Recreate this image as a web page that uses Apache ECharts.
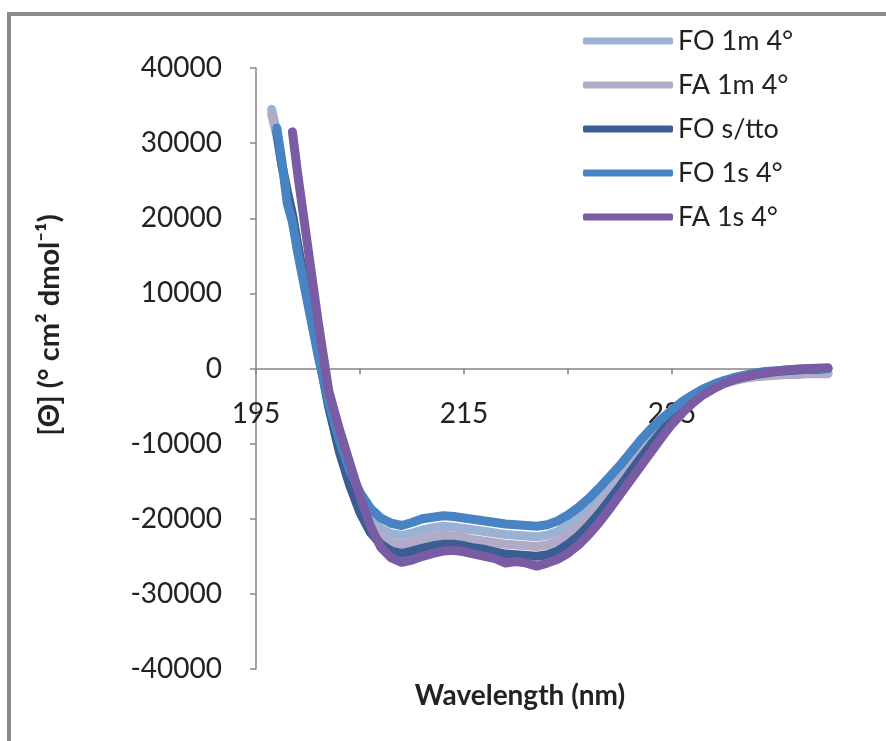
<!DOCTYPE html>
<html>
<head>
<meta charset="utf-8">
<script src="https://cdn.jsdelivr.net/npm/echarts@6/dist/echarts.min.js"></script>
<style>
html,body{margin:0;padding:0;background:#fff;}
#chart{width:886px;height:741px;}
</style>
</head>
<body>
<div id="chart"></div>
<script>
// Wavelength (nm)
const wavelength = [196.5,197,197.5,198,198.5,199,200,201,202,203,204,205,206,207,208,209,210,211,212,213,214,215,216,217,218,219,220,221,222,223,224,225,226,227,228,229,230,231,232,233,234,235,236,237,238,239,240,241,242,243,244,245,246,247,248,249,250];

const seriesNames = ['FO 1m 4°','FA 1m 4°','FO s/tto','FO 1s 4°','FA 1s 4°'];

const fo1m4 = [34500,31500,27000,23500,20500,16500,9000,2000,-4500,-10000,-14500,-17800,-20000,-21300,-22000,-22200,-21900,-21500,-21200,-21000,-21100,-21300,-21500,-21700,-21900,-22100,-22200,-22300,-22400,-22200,-21700,-20900,-19800,-18500,-17000,-15400,-13800,-12000,-10300,-8700,-7200,-5900,-4700,-3700,-2900,-2300,-1800,-1400,-1100,-900,-800,-700,-700,-600,-600,-600,-600];

const fa1m4 = [33800,31000,27000,23800,20500,16500,9000,2000,-5000,-10500,-15000,-18500,-21000,-22400,-23200,-23400,-23100,-22700,-22400,-22200,-22300,-22500,-22800,-23000,-23200,-23400,-23500,-23600,-23700,-23500,-23000,-22200,-21100,-19800,-18300,-16600,-14900,-13100,-11300,-9600,-8000,-6500,-5200,-4100,-3200,-2500,-2000,-1600,-1300,-1100,-1000,-900,-800,-800,-700,-700,-700];

const foStto = [null,31500,27000,23500,20500,16500,9000,2000,-5200,-11000,-15500,-19200,-21800,-23400,-24300,-24600,-24300,-23900,-23600,-23400,-23400,-23600,-23900,-24100,-24400,-24700,-24800,-24900,-25000,-24800,-24300,-23400,-22300,-20900,-19300,-17500,-15700,-13800,-11900,-10100,-8400,-6800,-5400,-4200,-3200,-2500,-1900,-1400,-1100,-800,-600,-400,-300,-200,-100,-100,0];

const fo1s4 = [null,32000,27500,22000,19500,15500,8500,1500,-4500,-9500,-13500,-16500,-18600,-19900,-20600,-20900,-20500,-20000,-19800,-19600,-19700,-19900,-20100,-20300,-20500,-20700,-20800,-20900,-21000,-20800,-20300,-19500,-18500,-17300,-15900,-14400,-12900,-11200,-9500,-8000,-6700,-5500,-4400,-3500,-2700,-2100,-1600,-1200,-900,-600,-400,-300,-200,-100,-50,0,0];

const fa1s4 = [null,null,null,null,31500,26000,16000,6000,-3000,-8000,-12500,-17000,-21000,-23800,-25200,-25800,-25500,-25000,-24600,-24300,-24200,-24400,-24700,-25000,-25300,-25900,-25700,-25900,-26300,-25900,-25400,-24600,-23500,-22100,-20500,-18700,-16800,-14900,-13000,-11100,-9200,-7400,-5900,-4600,-3500,-2700,-2000,-1500,-1100,-800,-550,-350,-200,-100,0,50,100];

const xTickLabels = [195,215,235];
const yAxisTitle = '[Θ] (° cm² dmol⁻¹)';
const xAxisTitle = 'Wavelength (nm)';

const colors = ['#9cb2d4','#b1abc7','#3a5e93','#4883c3','#7a5ca5'];
const valueSets = [fo1m4, fa1m4, foStto, fo1s4, fa1s4];

const FONT = 'Lato, "Open Sans", "DejaVu Sans", sans-serif';

const chart = echarts.init(document.getElementById('chart'), null, {renderer:'canvas'});

const series = seriesNames.map((name, i) => ({
  name: name,
  type: 'line',
  showSymbol: false,
  symbol: 'none',
  connectNulls: false,
  color: colors[i],
  lineStyle: {width: 9, color: colors[i], cap: 'round', join: 'round'},
  data: wavelength.map((w, k) => [w, valueSets[i][k]]),
  z: 2 + i
}));

chart.setOption({
  animation: false,
  backgroundColor: '#ffffff',
  textStyle: {fontFamily: FONT},
  graphic: [{
    type: 'rect',
    shape: {x: 9, y: 14, width: 920, height: 800},
    style: {fill: 'none', stroke: '#8a8a8a', lineWidth: 4},
    silent: true, z: 0
  }],
  grid: {left: 256, right: 58, top: 68, bottom: 72, containLabel: false, outerBoundsMode: 'none'},
  legend: {
    orient: 'vertical',
    left: 578,
    top: 21,
    icon: 'roundRect',
    itemWidth: 90,
    itemHeight: 7,
    itemGap: 14,
    textStyle: {fontSize: 27, color: '#222', fontFamily: FONT, lineHeight: 30},
    data: seriesNames
  },
  xAxis: {
    type: 'value',
    min: 195,
    max: 250,
    interval: 10,
    name: xAxisTitle,
    nameLocation: 'middle',
    nameGap: 13,
    nameTextStyle: {fontSize: 28, fontWeight: 'bold', color: '#222', fontFamily: FONT, padding: [0, 44, 0, 0]},
    axisLine: {onZero: true, lineStyle: {color: '#868686', width: 1.5}},
    axisTick: {show: true, length: 6, lineStyle: {color: '#868686', width: 1.5}},
    splitLine: {show: false},
    axisLabel: {
      margin: -269,
      fontSize: 28,
      color: '#222',
      fontFamily: FONT,
      formatter: v => (xTickLabels.indexOf(v) >= 0 ? String(v) : '')
    }
  },
  yAxis: {
    type: 'value',
    min: -40000,
    max: 40000,
    interval: 10000,
    name: yAxisTitle,
    nameLocation: 'middle',
    nameGap: 192,
    nameRotate: 90,
    nameTextStyle: {fontSize: 29, fontWeight: 'bold', color: '#222', fontFamily: FONT, padding: [0, 0, 0, 87]},
    axisLine: {show: true, onZero: false, lineStyle: {color: '#868686', width: 1.5}},
    axisTick: {show: true, length: 6, lineStyle: {color: '#868686', width: 1.5}},
    splitLine: {show: false},
    axisLabel: {margin: 34, fontSize: 28, color: '#222', fontFamily: FONT, formatter: v => String(v)}
  },
  series: series
});
</script>
</body>
</html>
